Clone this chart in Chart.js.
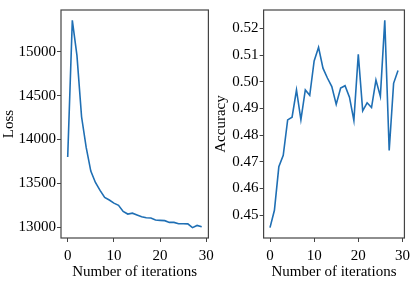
<!DOCTYPE html>
<html>
<head>
<meta charset="utf-8">
<script src="https://cdn.jsdelivr.net/npm/chart.js@4/dist/chart.umd.min.js"></script>
<style>
  html, body { margin: 0; padding: 0; background: #fff; }
  #wrap { position: relative; width: 415px; height: 283px; overflow: hidden; }
  canvas { position: absolute; left: 0; top: 0; }
</style>
</head>
<body>
<div id="wrap">
  <canvas id="c1" width="415" height="283"></canvas>
  <canvas id="c2" width="415" height="283"></canvas>
</div>
<script>
const iterations = [0,1,2,3,4,5,6,7,8,9,10,11,12,13,14,15,16,17,18,19,20,21,22,23,24,25,26,27,28,29];
const lossValues = [13800, 15360, 14960, 14260, 13910, 13640, 13510, 13420, 13340, 13310,
                    13275, 13250, 13180, 13150, 13160, 13140, 13120, 13108, 13105, 13082,
                    13078, 13075, 13055, 13055, 13040, 13040, 13038, 12995, 13020, 13005];
const accuracyValues = [0.4453, 0.4518, 0.4681, 0.4724, 0.4857, 0.4867, 0.4969, 0.4857, 0.4969, 0.4949,
                        0.5078, 0.5129, 0.5051, 0.5014, 0.4982, 0.4915, 0.4976, 0.4985, 0.4942, 0.4855,
                        0.5103, 0.4891, 0.4921, 0.4903, 0.5006, 0.4945, 0.5230, 0.4742, 0.4994, 0.5042];
const xTicks = [0, 10, 20, 30];
const lossTicks = [13000, 13500, 14000, 14500, 15000];
const accuracyTicks = [0.45, 0.46, 0.47, 0.48, 0.49, 0.50, 0.51, 0.52];

const FONT = "'Liberation Serif', 'Times New Roman', serif";
const FRAME = '#444';
const LINE = '#1f6fb4';

const framePlugin = {
  id: 'frame',
  afterDraw(chart) {
    const a = chart.chartArea, ctx = chart.ctx;
    ctx.save();
    ctx.strokeStyle = FRAME;
    ctx.lineWidth = 1.2;
    ctx.strokeRect(a.left, a.top, a.right - a.left, a.bottom - a.top);
    ctx.restore();
  }
};

function makeChart(id, values, yTicks, yLabel, yFmt, padLeft, padRight, yWidth, xMin, xMax, yMin, yMax) {
  const points = iterations.map((it, i) => ({ x: it, y: values[i] }));
  return new Chart(document.getElementById(id), {
    type: 'line',
    data: { datasets: [{ data: points, borderColor: LINE, borderWidth: 1.6,
                         pointRadius: 0, tension: 0, fill: false }] },
    options: {
      responsive: false, animation: false, devicePixelRatio: 1,
      layout: { padding: { left: padLeft, right: padRight, top: 4, bottom: 0 } },
      plugins: { legend: { display: false }, tooltip: { enabled: false } },
      scales: {
        x: {
          type: 'linear', min: xMin, max: xMax,
          afterBuildTicks: ax => { ax.ticks = xTicks.map(v => ({ value: v })); },
          afterFit: ax => { ax.height = 45; },
          grid: { display: true, drawOnChartArea: false, drawTicks: true, tickLength: 4, color: FRAME },
          border: { display: false },
          ticks: { color: '#000', font: { family: FONT, size: 15 }, padding: 5, maxRotation: 0,
                   callback: v => String(v) },
          title: { display: true, text: 'Number of iterations', color: '#000',
                   font: { family: FONT, size: 15 }, padding: { top: 0, bottom: 2 } }
        },
        y: {
          type: 'linear', min: yMin, max: yMax,
          afterBuildTicks: ax => { ax.ticks = yTicks.map(v => ({ value: v })); },
          afterFit: ax => { ax.width = yWidth; },
          grid: { display: true, drawOnChartArea: false, drawTicks: true, tickLength: 4, color: FRAME },
          border: { display: false },
          ticks: { color: '#000', font: { family: FONT, size: 15 }, padding: 1, callback: yFmt },
          title: { display: true, text: yLabel, color: '#000',
                   font: { family: FONT, size: 15 }, padding: { top: 0, bottom: 0 } }
        }
      }
    },
    plugins: [framePlugin]
  });
}

makeChart('c1', lossValues, lossTicks, 'Loss', v => String(v),
          0, 415 - 208.4, 61, -1.45, 30.45, 12877, 15478);
makeChart('c2', accuracyValues, accuracyTicks, 'Accuracy', v => Number(v).toFixed(2),
          212, 4.6, 263.6 - 212, -1.45, 30.45, 0.4414, 0.5269);
</script>
</body>
</html>
